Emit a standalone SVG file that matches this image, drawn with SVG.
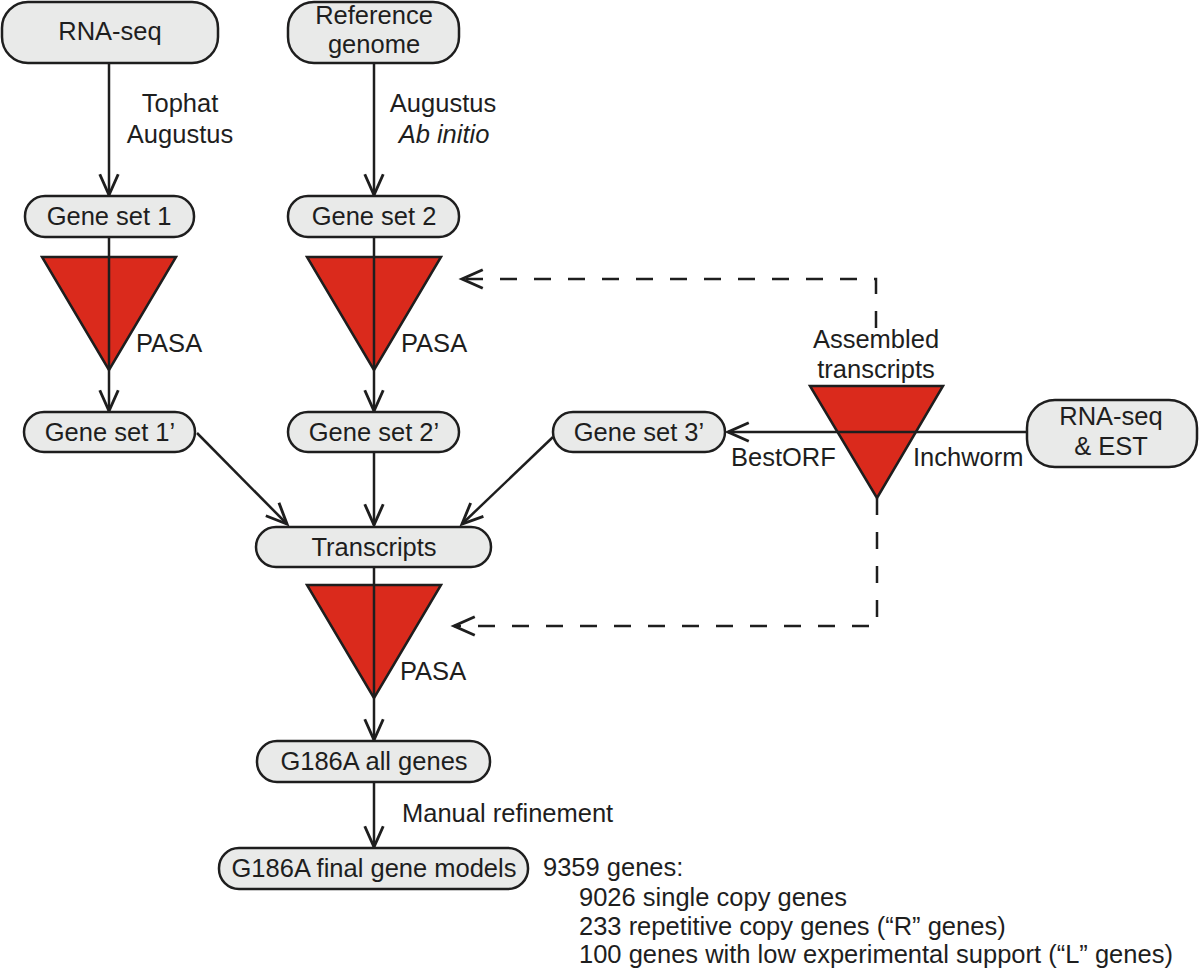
<svg xmlns="http://www.w3.org/2000/svg" width="1200" height="975" viewBox="0 0 1200 975">
<style>
text{font-family:"Liberation Sans",Arial,Helvetica,sans-serif;font-size:25.5px;fill:#1e1e1e}
.c{text-anchor:middle}
.pill{fill:#e9eae9;stroke:#1e1e1e;stroke-width:2.5}
.tri{fill:#da2a1c;stroke:#1e1e1e;stroke-width:2.5;stroke-linejoin:miter}
.ln{fill:none;stroke:#1e1e1e;stroke-width:2.5}
.dash{fill:none;stroke:#1e1e1e;stroke-width:2.5;stroke-dasharray:17 17}
</style>
<defs>
<marker id="ah" markerUnits="userSpaceOnUse" markerWidth="30" markerHeight="30" viewBox="-22 -12 26 24" refX="0" refY="0" orient="auto">
<path d="M-18,-8 L0,0 L-18,8" fill="none" stroke="#1e1e1e" stroke-width="2.5"/>
</marker>
</defs>

<g id="tri1"><polygon class="tri" points="42,257 176,257 109,370"/><text x="136" y="352">PASA</text></g>
<g id="tri2"><polygon class="tri" points="307,257 441,257 374,370"/><text x="401" y="352">PASA</text></g>
<g id="tri4"><polygon class="tri" points="307,585 441,585 374,698"/><text x="400" y="680">PASA</text></g>
<g id="tri3"><polygon class="tri" points="810,386 943,386 877,498"/>
<text class="c" x="876" y="348">Assembled</text><text class="c" x="876" y="378">transcripts</text></g>

<g id="connectors">
<path class="ln" d="M109,63 V195" marker-end="url(#ah)"/>
<path class="ln" d="M374,63 V195" marker-end="url(#ah)"/>
<path class="ln" d="M109,237 V411" marker-end="url(#ah)"/>
<path class="ln" d="M374,237 V411" marker-end="url(#ah)"/>
<path class="ln" d="M197,433 L287,524" marker-end="url(#ah)"/>
<path class="ln" d="M374,452 V525" marker-end="url(#ah)"/>
<path class="ln" d="M553,437 L462,524" marker-end="url(#ah)"/>
<path class="ln" d="M1027,432 H728" marker-end="url(#ah)"/>
<path class="ln" d="M374,567 V740" marker-end="url(#ah)"/>
<path class="ln" d="M374,782 V847" marker-end="url(#ah)"/>
<path class="dash" d="M876,328 V279 H462" marker-end="url(#ah)"/>
<path class="dash" d="M877,498 V626 H454" marker-end="url(#ah)"/>
<text class="c" x="180" y="112">Tophat</text>
<text class="c" x="180" y="143">Augustus</text>
<text class="c" x="443" y="112">Augustus</text>
<text class="c" x="444" y="143" font-style="italic">Ab initio</text>
<text x="731" y="466">BestORF</text>
<text x="913" y="466">Inchworm</text>
<text x="402" y="822">Manual refinement</text>
</g>

<g id="rnaseq"><rect class="pill" x="2" y="2" width="216" height="61" rx="26"/><text class="c" x="110" y="40">RNA-seq</text></g>
<g id="refgenome"><rect class="pill" x="288" y="2" width="171" height="61" rx="26"/><text class="c" x="374" y="24">Reference</text><text class="c" x="374" y="53">genome</text></g>
<g id="geneset1"><rect class="pill" x="25" y="196" width="169" height="41" rx="20"/><text class="c" x="109" y="225">Gene set 1</text></g>
<g id="geneset2"><rect class="pill" x="288" y="196" width="171" height="41" rx="20"/><text class="c" x="374" y="225">Gene set 2</text></g>
<g id="geneset1p"><rect class="pill" x="24" y="412" width="171" height="40" rx="20"/><text class="c" x="110" y="441">Gene set 1’</text></g>
<g id="geneset2p"><rect class="pill" x="288" y="412" width="171" height="40" rx="20"/><text class="c" x="374" y="441">Gene set 2’</text></g>
<g id="geneset3p"><rect class="pill" x="553" y="412" width="172" height="40" rx="20"/><text class="c" x="639" y="441">Gene set 3’</text></g>
<g id="rnaseqest"><rect class="pill" x="1027" y="400" width="170" height="67" rx="28"/><text class="c" x="1111" y="425">RNA-seq</text><text class="c" x="1111" y="455">&amp; EST</text></g>
<g id="transcripts"><rect class="pill" x="256" y="527" width="235" height="40" rx="20"/><text class="c" x="374" y="556">Transcripts</text></g>
<g id="allgenes"><rect class="pill" x="257" y="741" width="233" height="41" rx="20"/><text class="c" x="374" y="770">G186A all genes</text></g>
<g id="final"><rect class="pill" x="219" y="848" width="309" height="41" rx="20"/><text class="c" x="374" y="877">G186A final gene models</text></g>

<g id="summary">
<text x="543" y="876">9359 genes:</text>
<text x="579" y="906">9026 single copy genes</text>
<text x="579" y="935">233 repetitive copy genes (“R” genes)</text>
<text x="579" y="963">100 genes with low experimental support (“L” genes)</text>
</g>
</svg>
